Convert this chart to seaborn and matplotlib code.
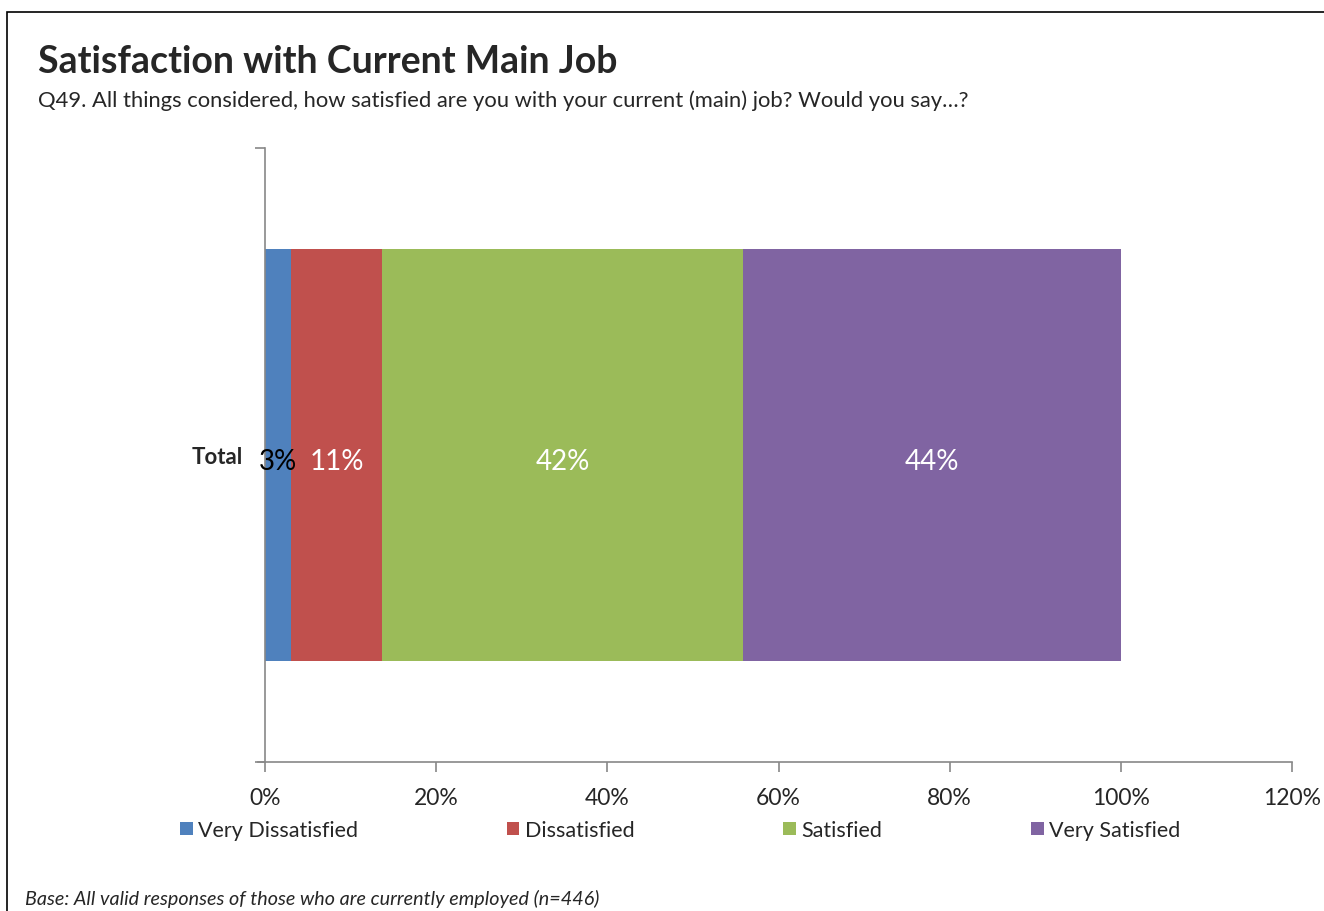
import numpy as np
import pandas as pd
import matplotlib
matplotlib.use("Agg")
import matplotlib.pyplot as plt
import seaborn as sns
from matplotlib.patches import Rectangle, Patch

categories = ["Very Dissatisfied", "Dissatisfied", "Satisfied", "Very Satisfied"]
values = [3.0, 10.7, 42.1, 44.2]
labels = ["3%", "11%", "42%", "44%"]
colors = ["#4F81BD", "#C0504D", "#9BBB59", "#8064A2"]
label_colors = ["black", "white", "white", "white"]
row_label = "Total"
xticks = [0, 20, 40, 60, 80, 100, 120]
xtick_labels = ["0%", "20%", "40%", "60%", "80%", "100%", "120%"]

sns.set_theme(style="white")
plt.rcParams["font.family"] = ["Lato", "DejaVu Sans"]

fig = plt.figure(figsize=(13.24, 9.12), dpi=100)
ax = fig.add_axes([265/1324, 1-763/912, (1292-265)/1324, (763-149)/912])

cum = np.cumsum(values)
starts = cum - np.array(values)
for i in reversed(range(len(values))):
    df = pd.DataFrame({"cat": [row_label], "val": [cum[i]]})
    sns.barplot(data=df, x="val", y="cat", orient="h", color=colors[i],
                saturation=1, width=0.67, ax=ax, edgecolor="none")

for i in range(len(values)):
    ax.text(starts[i] + values[i]/2, 0.01, labels[i], ha="center", va="center",
            fontsize=20, color=label_colors[i])

ax.set_xlim(0, 120)
ax.set_ylim(0.5, -0.5)
ax.set_xticks(xticks)
ax.set_xticklabels(xtick_labels, fontsize=16.5)
ax.set_yticks([0])
ax.set_yticklabels([row_label], fontsize=16, fontweight="bold")
ax.set_xlabel("")
ax.set_ylabel("")
for s in ["top", "right"]:
    ax.spines[s].set_visible(False)
for s in ["left", "bottom"]:
    ax.spines[s].set_color("#888888")
    ax.spines[s].set_linewidth(1.2)
ax.tick_params(axis="x", which="both", bottom=True, length=7, color="#888888",
               width=1.2, pad=11)
ax.tick_params(axis="y", length=0, pad=16)
ax.set_yticks([-0.5, 0.5], minor=True)
ax.tick_params(axis="y", which="minor", left=True, length=7, color="#888888", width=1.2)
ax.spines["bottom"].set_bounds(-0.8, 120)

handles = [Patch(facecolor=c, edgecolor="none", label=l) for c, l in zip(colors, categories)]
leg = fig.legend(handles=handles, loc="center", bbox_to_anchor=(680/1324, 1-831/912),
                 ncol=4, frameon=False, fontsize=15.5, handlelength=0.6, handleheight=0.6,
                 handletextpad=0.25, columnspacing=6.9)

fig.text(38/1324, 1-62/912, "Satisfaction with Current Main Job", fontsize=27,
         fontweight="bold", va="center", ha="left")
fig.text(38/1324, 1-101/912,
         "Q49. All things considered, how satisfied are you with your current (main) job? Would you say\u2026?",
         fontsize=15.8, va="center", ha="left")
fig.text(25/1324, 1-899/912,
         "Base: All valid responses of those who are currently employed (n=446)",
         fontsize=14.2, style="italic", va="center", ha="left")

fig.add_artist(Rectangle((7/1324, -0.1), 1.2, 1 - 13/912 + 0.1, transform=fig.transFigure,
                         fill=False, edgecolor="black", linewidth=1.2))

fig.savefig("out.png", dpi=100)
